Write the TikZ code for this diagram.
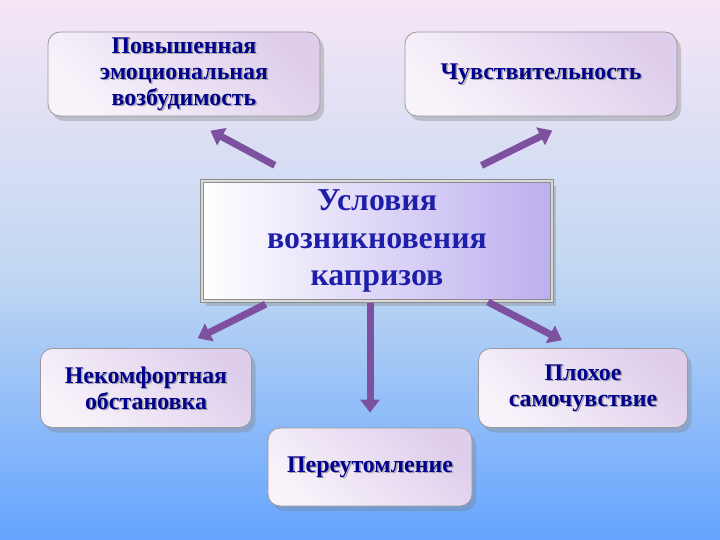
\documentclass[tikz,border=0pt]{standalone}
\usepackage{fontspec}
\setmainfont{Liberation Serif}
\usepackage[outline]{contour}
\usetikzlibrary{arrows.meta,shadows,calc}
\contourlength{1.2pt}
\definecolor{inkblue}{RGB}{0,0,140}
\definecolor{titleblue}{RGB}{30,30,170}
\definecolor{arrowviolet}{RGB}{125,80,160}
\definecolor{boxlight}{RGB}{248,242,250}
\definecolor{boxdark}{RGB}{222,206,236}
\definecolor{bgtop}{RGB}{246,230,246}
\definecolor{bgmid}{RGB}{194,216,242}
\definecolor{bgbot}{RGB}{100,164,254}
\tikzset{x=1bp, y=-1bp,
  cause box/.style={draw=black!40, line width=0.8bp, rounded corners=12bp,
        left color=boxlight, right color=boxdark, shading angle=135,
        drop shadow={opacity=0.35, shadow xshift=4bp, shadow yshift=-5bp}},
  cause text/.style={align=center, text=inkblue,
        font=\fontsize{24}{26}\selectfont\bfseries},
  title box/.style={draw=black!45, line width=1bp, double=black!15,
        double distance=2.5bp, left color=white, right color=boxdark!85!blue,
        minimum width=350bp, minimum height=120bp,
        drop shadow={opacity=0.35, shadow xshift=4bp, shadow yshift=-5bp}},
  title text/.style={align=center, text=titleblue,
        font=\fontsize{32}{38}\selectfont\bfseries},
  link/.style={draw=arrowviolet, line width=7bp,
        -{Triangle[width=19bp,length=13bp]}}
}
% box with a text and a shadow of the text
\def\Cause#1#2#3#4#5{%
  \node[cause box, minimum width=#3, minimum height=#4] (#1) at (#2) {};
  \node[cause text, text=black!35] (#1-shadow) at ($(#1)+(1.5,1.5)$) {#5};
  \node[cause text] (#1-text) at (#1) {#5};
}

\begin{document}
\begin{tikzpicture}
\shade[top color=bgtop, bottom color=bgbot, middle color=bgmid]
  (0,0) rectangle (720,540);
\useasboundingbox (0,0) rectangle (720,540);

\Cause{excite}{184,74}{272bp}{84bp}{Повышенная\\эмоциональная\\возбудимость}
\Cause{sense}{541,74}{272bp}{84bp}{Чувствительность}
\Cause{comfort}{146,388}{211bp}{79bp}{Некомфортная\\обстановка}
\Cause{tired}{370,467}{204bp}{78bp}{Переутомление}
\Cause{health}{583,388}{209bp}{79bp}{Плохое\\самочувствие}

\node[title box] (title) at (377,241) {};
\node[title text] (title-text) at (title)
  {\contour{white}{Условия}\\\contour{white}{возникновения}\\\contour{white}{капризов}};

\draw[link, shorten <=32bp, shorten >=30bp] ([xshift=-74bp]title.north) -- (excite.south);
\draw[link, shorten <=34bp, shorten >=32bp] ([xshift=74bp]title.north) -- ([xshift=40bp]sense.south);
\draw[link, shorten <=6bp, shorten >=22bp] ([xshift=-106bp]title.south) -- ([xshift=32bp]comfort.north);
\draw[link, shorten <=1bp, shorten >=15bp] (title.south -| tired.north) -- (tired.north);
\draw[link, shorten <=1bp, shorten >=17bp] ([xshift=110bp]title.south) -- ([xshift=-6bp]health.north);
\end{tikzpicture}
\end{document}
